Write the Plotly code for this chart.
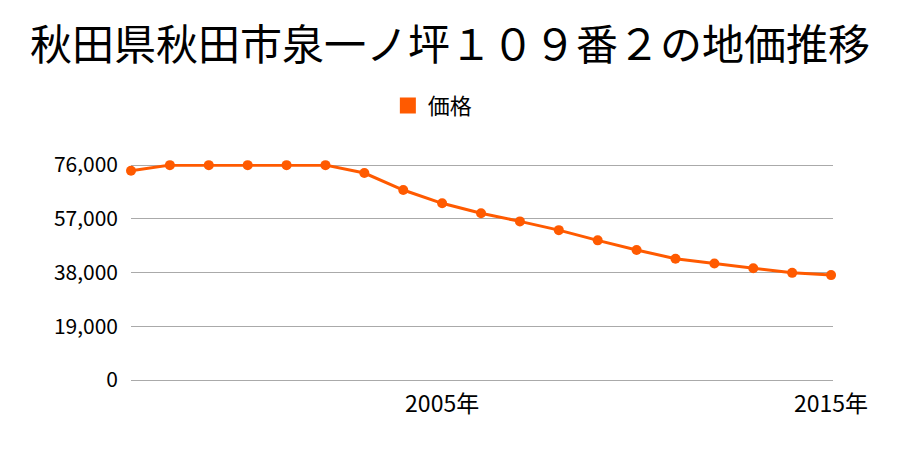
import plotly.graph_objects as go

years = list(range(1997, 2016))
prices = [74000, 76000, 76000, 76000, 76000, 76000, 73200, 67200, 62500, 59000,
          56100, 53000, 49400, 46000, 42900, 41200, 39500, 37900, 37100]
series_name = "価格"
title = "秋田県秋田市泉一ノ坪１０９番２の地価推移"
y_ticks = [0, 19000, 38000, 57000, 76000]
x_ticks = [2005, 2015]
x_labels = ["2005年", "2015年"]

font = "Noto Sans CJK JP"
color = "#ff5a00"

fig = go.Figure()
fig.add_trace(go.Scatter(
    x=years, y=prices, name=series_name, mode="lines+markers",
    line=dict(color=color, width=3),
    marker=dict(color=color, size=10, symbol="circle"),
    cliponaxis=False, showlegend=False,
))
fig.add_trace(go.Scatter(
    x=[None], y=[None], name=series_name, mode="markers",
    marker=dict(color=color, size=22, symbol="square"),
    showlegend=True,
))

fig.update_layout(
    width=900, height=450,
    margin=dict(l=131, r=67, t=164, b=70),
    paper_bgcolor="white", plot_bgcolor="white",
    font=dict(family=font, color="#000000"),
    title=dict(text=title, x=0.5, xanchor="center", y=0.9, yanchor="middle",
               yref="container", font=dict(size=42, family=font)),
    showlegend=True,
    legend=dict(orientation="h", x=0.43, xanchor="center", y=1.27, yanchor="middle",
                font=dict(size=22, family=font)),
    xaxis=dict(range=[1997, 2015.05], tickvals=x_ticks, ticktext=x_labels,
               showgrid=False, zeroline=False, showline=False,
               tickfont=dict(size=23, family=font), ticks="", ticklabelstandoff=8),
    yaxis=dict(range=[0, 76400], tickvals=y_ticks, tickformat=",d",
               showgrid=True, gridcolor="#aaaaaa", gridwidth=1,
               zeroline=True, zerolinecolor="#aaaaaa", zerolinewidth=1, showline=False,
               tickfont=dict(size=21, family=font), ticks="", ticklabelstandoff=12),
)

fig.write_html("out.html")
